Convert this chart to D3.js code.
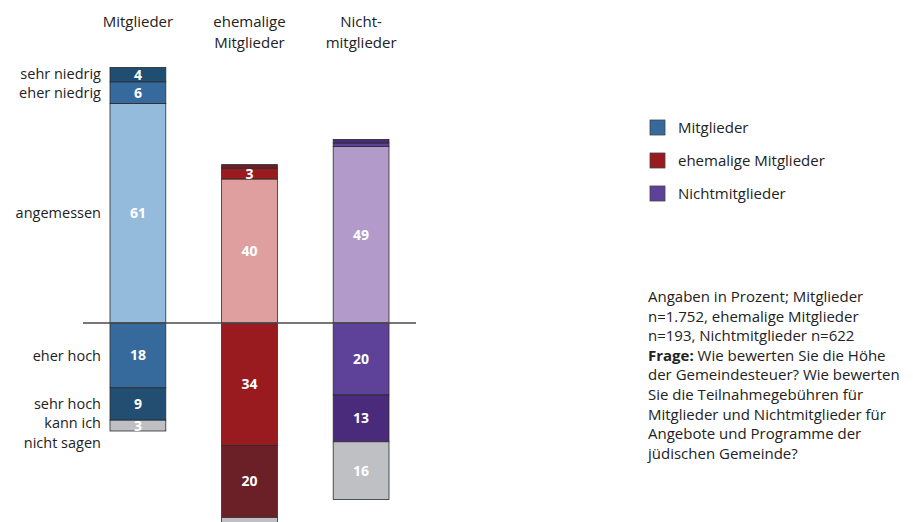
<!DOCTYPE html>
<html>
<head>
<meta charset="utf-8">
<script src="https://cdn.jsdelivr.net/npm/d3@7"></script>
<style>
  body { margin: 0; background: #fff; }
  svg text { font-family: "Open Sans", sans-serif; }
</style>
</head>
<body>
<div class="chart"></div>
<script>
// Groups (columns) and answer categories
let groups = ["Mitglieder", "ehemalige Mitglieder", "Nichtmitglieder"];
let group_heads = [["Mitglieder"], ["ehemalige", "Mitglieder"], ["Nicht-", "mitglieder"]];
let answers = ["sehr niedrig", "eher niedrig", "angemessen", "eher hoch", "sehr hoch", "kann ich nicht sagen"];
let answer_labels = [["sehr niedrig"], ["eher niedrig"], ["angemessen"], ["eher hoch"], ["sehr hoch"], ["kann ich", "nicht sagen"]];

// Values in percent, same order as answers
let val_mitglieder = [4, 6, 61, 18, 9, 3];
let val_ehemalige = [1, 3, 40, 34, 20, 3];
let val_nicht = [1, 1, 49, 20, 13, 16];

// Colours per group, same order as answers
let col_mitglieder = ["#1f4e72", "#366a9c", "#95bbdc", "#366a9c", "#224e72", "#bfc0c4"];
let col_ehemalige = ["#6a1f27", "#991a1f", "#df9f9f", "#991a1f", "#6b1f27", "#bfc0c4"];
let col_nicht = ["#4a2a7a", "#5e4299", "#b29aca", "#5e4299", "#4a2a7a", "#bfc0c4"];

let note_lines = [
  ["", "Angaben in Prozent; Mitglieder"],
  ["", "n=1.752, ehemalige Mitglieder"],
  ["", "n=193, Nichtmitglieder n=622"],
  ["Frage:", " Wie bewerten Sie die Höhe"],
  ["", "der Gemeindesteuer? Wie bewerten"],
  ["", "Sie die Teilnahmegebühren für"],
  ["", "Mitglieder und Nichtmitglieder für"],
  ["", "Angebote und Programme der"],
  ["", "jüdischen Gemeinde?"]
];

let values = [val_mitglieder, val_ehemalige, val_nicht];
let colors = [col_mitglieder, col_ehemalige, col_nicht];
let legend_colors = ["#366a9c", "#991a1f", "#5e4299"];

let width = 913, height = 522;
let font_size = "15px";

let svg = d3.select("div.chart").append("svg")
    .attr("width", width)
    .attr("height", height);

// Scales
let x = d3.scaleBand().domain(groups).range([110, 389]).paddingInner(0.5).paddingOuter(0);
let y = d3.scaleLinear().domain([-55, 90]).range([521, -1]);

// Build segments: above zero for first three answers (stacked upward from angemessen),
// below zero for the rest
let segs = [];
groups.forEach(function(g, gi) {
  let v = values[gi];
  let up = 0;
  [2, 1, 0].forEach(function(ai) {
    segs.push({g: g, gi: gi, ai: ai, v: v[ai], y0: up, y1: up + v[ai]});
    up += v[ai];
  });
  let down = 0;
  [3, 4, 5].forEach(function(ai) {
    segs.push({g: g, gi: gi, ai: ai, v: v[ai], y0: down - v[ai], y1: down});
    down -= v[ai];
  });
});

let bars = svg.append("g");
bars.selectAll("rect").data(segs).enter().append("rect")
    .attr("x", d => x(d.g))
    .attr("width", x.bandwidth())
    .attr("y", d => y(d.y1))
    .attr("height", d => y(d.y0) - y(d.y1))
    .attr("fill", d => colors[d.gi][d.ai])
    .attr("stroke", "#2b2b2b")
    .attr("stroke-width", 0.8);

// Baseline
svg.append("line")
    .attr("x1", 83).attr("x2", 416)
    .attr("y1", y(0)).attr("y2", y(0))
    .attr("stroke", "#4a4a4a")
    .attr("stroke-width", 1.3);

// Value labels (skip tiny segments and those that fall below the picture)
bars.selectAll("text.val")
    .data(segs.filter(d => d.v >= 3 && y((d.y0 + d.y1) / 2) < height - 10))
    .enter().append("text")
    .attr("class", "val")
    .attr("x", d => x(d.g) + x.bandwidth() / 2)
    .attr("y", d => y((d.y0 + d.y1) / 2))
    .attr("dy", "0.36em")
    .attr("text-anchor", "middle")
    .style("font-size", "14px")
    .style("font-weight", "bold")
    .attr("fill", "#fff")
    .text(d => d.v);

// Answer labels, aligned to the Mitglieder column
let mseg = segs.filter(d => d.gi === 0);
mseg.forEach(function(d) {
  let lines = answer_labels[d.ai];
  let cy = y((d.y0 + d.y1) / 2);
  if (lines.length > 1) cy += 7;
  if (d.ai === 0) cy -= 1;
  let t = svg.append("text")
      .attr("x", 101)
      .attr("text-anchor", "end")
      .style("font-size", "14.5px")
      .attr("fill", "#222");
  lines.forEach(function(l, li) {
    t.append("tspan")
      .attr("x", 101)
      .attr("y", cy + (li - (lines.length - 1) / 2) * 20)
      .attr("dy", "0.36em")
      .text(l);
  });
});

// Column heads
group_heads.forEach(function(lines, gi) {
  let t = svg.append("text")
      .attr("text-anchor", "middle")
      .style("font-size", font_size)
      .attr("fill", "#222");
  lines.forEach(function(l, li) {
    t.append("tspan")
      .attr("x", x(groups[gi]) + x.bandwidth() / 2)
      .attr("y", 27 + li * 21)
      .text(l);
  });
});

// Legend
let legend = svg.append("g").attr("transform", "translate(650,120)");
groups.forEach(function(g, gi) {
  legend.append("rect")
    .attr("x", 0).attr("y", gi * 33)
    .attr("width", 15).attr("height", 15)
    .attr("fill", legend_colors[gi])
    .attr("stroke", "#444")
    .attr("stroke-width", 0.8);
  legend.append("text")
    .attr("x", 28).attr("y", gi * 33 + 8)
    .attr("dy", "0.36em")
    .style("font-size", font_size)
    .attr("fill", "#222")
    .text(g);
});

// Note text
let note = svg.append("g");
note_lines.forEach(function(l, li) {
  let t = note.append("text")
      .attr("x", 648)
      .attr("y", 302 + li * 19.6)
      .style("font-size", font_size)
      .attr("fill", "#222");
  if (l[0]) t.append("tspan").style("font-weight", "bold").text(l[0]);
  t.append("tspan").text(l[1]);
});
</script>
</body>
</html>
